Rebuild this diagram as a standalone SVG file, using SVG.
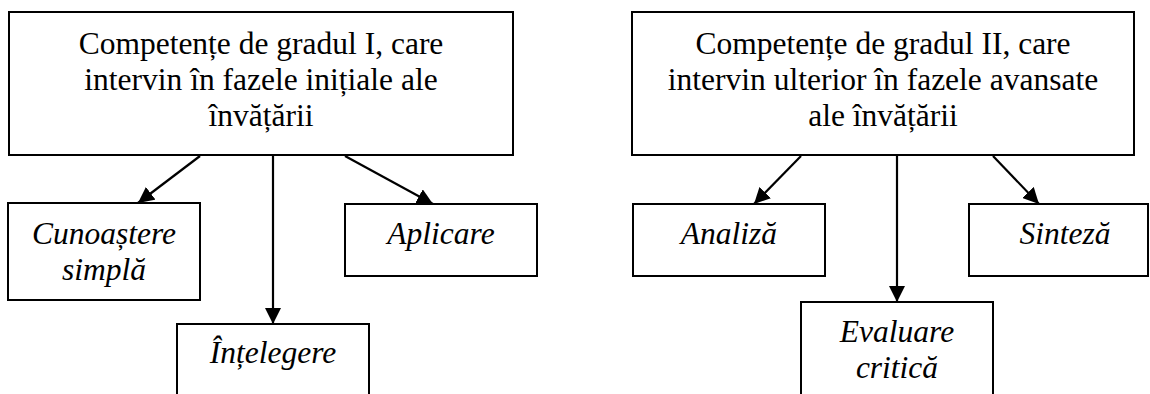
<svg xmlns="http://www.w3.org/2000/svg" width="1150" height="394" viewBox="0 0 1150 394">
<style>
.box{fill:#fff;stroke:#000;stroke-width:2}
.t{font-family:"Liberation Serif","Times New Roman",serif;font-size:31.5px;fill:#000;text-anchor:middle}
.i{font-style:italic}
.c{stroke:#000;stroke-width:2.2;fill:none;marker-end:url(#ah)}
</style>
<defs>
<marker id="ah" markerUnits="userSpaceOnUse" markerWidth="18" markerHeight="16" refX="16" refY="8" orient="auto">
<path d="M0,0 L16,8 L0,16 Z" fill="#000"/>
</marker>
</defs>
<rect width="1150" height="394" fill="#fff"/>
<g id="connectors">
<line class="c" x1="200" y1="156" x2="138" y2="203"/>
<line class="c" x1="273" y1="156" x2="273" y2="324"/>
<line class="c" x1="345" y1="156" x2="433" y2="204"/>
<line class="c" x1="801" y1="156" x2="754" y2="204"/>
<line class="c" x1="897" y1="156" x2="897" y2="302"/>
<line class="c" x1="993" y1="156" x2="1039" y2="204"/>
</g>
<g id="n1">
<rect class="box" x="9" y="12" width="504" height="143"/>
<text class="t" x="261" y="54">Competențe de gradul I, care</text>
<text class="t" x="261" y="90">intervin în fazele inițiale ale</text>
<text class="t" x="261" y="126">învățării</text>
</g>
<g id="n2">
<rect class="box" x="8" y="203" width="192" height="97"/>
<text class="t i" x="104" y="244">Cunoaștere</text>
<text class="t i" x="104" y="280">simplă</text>
</g>
<g id="n3">
<rect class="box" x="177" y="324" width="192" height="80"/>
<text class="t i" x="273" y="363">Înțelegere</text>
</g>
<g id="n4">
<rect class="box" x="345" y="204" width="192" height="72"/>
<text class="t i" x="441" y="244">Aplicare</text>
</g>
<g id="n5">
<rect class="box" x="632" y="12" width="502" height="143"/>
<text class="t" x="883" y="54">Competențe de gradul II, care</text>
<text class="t" x="883" y="90">intervin ulterior în fazele avansate</text>
<text class="t" x="883" y="126">ale învățării</text>
</g>
<g id="n6">
<rect class="box" x="633" y="204" width="192" height="72"/>
<text class="t i" x="729" y="244">Analiză</text>
</g>
<g id="n7">
<rect class="box" x="801" y="302" width="192" height="102"/>
<text class="t i" x="897" y="342">Evaluare</text>
<text class="t i" x="897" y="378">critică</text>
</g>
<g id="n8">
<rect class="box" x="969" y="204" width="179" height="72"/>
<text class="t i" x="1065" y="244">Sinteză</text>
</g>
</svg>
